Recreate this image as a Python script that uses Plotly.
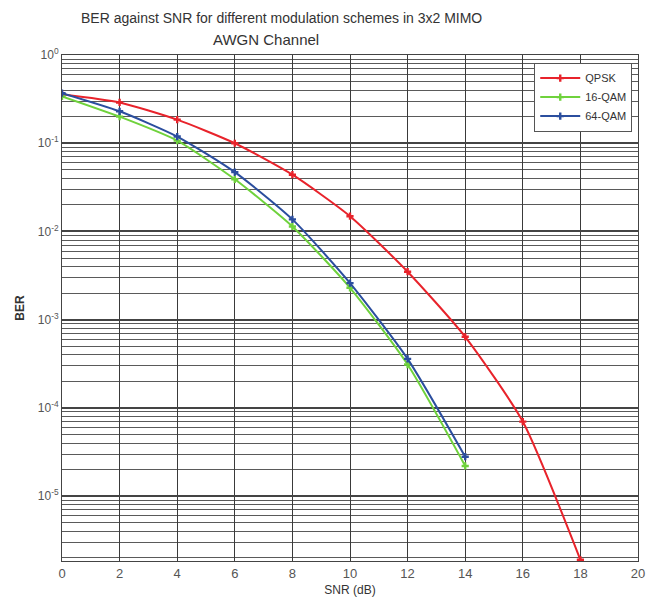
import plotly.graph_objects as go

snr = [0, 2, 4, 6, 8, 10, 12, 14, 16, 18]
snr_qam = [0, 2, 4, 6, 8, 10, 12, 14]
ber_qpsk = [0.36, 0.29, 0.185, 0.10, 0.044, 0.0149, 0.0035, 6.4e-4, 7.0e-5, 1.9e-6]
ber_16qam = [0.34, 0.20, 0.107, 0.039, 0.0114, 0.0023, 3.1e-4, 2.2e-5]
ber_64qam = [0.37, 0.23, 0.119, 0.047, 0.0137, 0.0026, 3.6e-4, 2.8e-5]

x_ticks = [0, 2, 4, 6, 8, 10, 12, 14, 16, 18, 20]
y_tickvals = [1, 1e-1, 1e-2, 1e-3, 1e-4, 1e-5]
y_ticktext = ["10<sup>0</sup>", "10<sup>-1</sup>", "10<sup>-2</sup>", "10<sup>-3</sup>",
              "10<sup>-4</sup>", "10<sup>-5</sup>"]

series = [
    ("QPSK", snr, ber_qpsk, "#e8232b"),
    ("16-QAM", snr_qam, ber_16qam, "#6fd23c"),
    ("64-QAM", snr_qam, ber_64qam, "#2b4e9e"),
]

fig = go.Figure()
for name, xs, ys, col in series:
    fig.add_trace(go.Scatter(
        x=xs, y=ys, name=name, mode="lines+markers",
        line=dict(color=col, width=2, shape="spline", smoothing=0.6),
        marker=dict(symbol="cross", size=6, color=col),
    ))

font_fam = "Liberation Sans, Arial, sans-serif"
L, R, T, B = 62, 12, 55, 46
W, H = 657, 607
pw = W - L - R
ph = H - T - B

fig.update_layout(
    width=W, height=H,
    margin=dict(l=L, r=R, t=T, b=B),
    paper_bgcolor="white", plot_bgcolor="white",
    font=dict(family=font_fam, size=12, color="#444444"),
    showlegend=True,
    legend=dict(x=0.99, y=0.985, xanchor="right", yanchor="top",
                bgcolor="white", bordercolor="#555555", borderwidth=1,
                font=dict(size=11, color="#333333"),
                tracegroupgap=0, itemwidth=40),
    xaxis=dict(
        range=[0, 20], tickmode="array", tickvals=x_ticks,
        ticktext=[str(v) for v in x_ticks],
        showgrid=True, gridcolor="#3a3a3a", gridwidth=1,
        showline=True, linecolor="#444444", linewidth=1, mirror=True,
        ticks="", zeroline=False,
        tickfont=dict(size=13, color="#555555"),
        title=dict(text="SNR (dB)", font=dict(size=12, color="#333333"), standoff=6),
    ),
    yaxis=dict(
        type="log", range=[-5.735, 0],
        tickmode="array", tickvals=y_tickvals, ticktext=y_ticktext,
        showgrid=True, gridcolor="#444444", gridwidth=1.5,
        minor=dict(tickmode="linear", dtick="D1", showgrid=True,
                   gridcolor="#5a5a5a", gridwidth=1, ticks=""),
        showline=True, linecolor="#444444", linewidth=1, mirror=True,
        ticks="", zeroline=False,
        tickfont=dict(size=12, color="#555555"),
        title=dict(text="<b>BER</b>", font=dict(size=12, color="#333333"), standoff=10),
    ),
)

fig.add_annotation(text="BER against SNR for different modulation schemes in 3x2 MIMO",
                   x=(284 - L) / pw, y=(H - B - 18) / ph, xref="paper", yref="paper",
                   showarrow=False, xanchor="center", yanchor="middle",
                   font=dict(size=14, color="#333333"))
fig.add_annotation(text="AWGN Channel",
                   x=(268 - L) / pw, y=(H - B - 40) / ph, xref="paper", yref="paper",
                   showarrow=False, xanchor="center", yanchor="middle",
                   font=dict(size=15, color="#333333"))

fig.write_html("out.html")
